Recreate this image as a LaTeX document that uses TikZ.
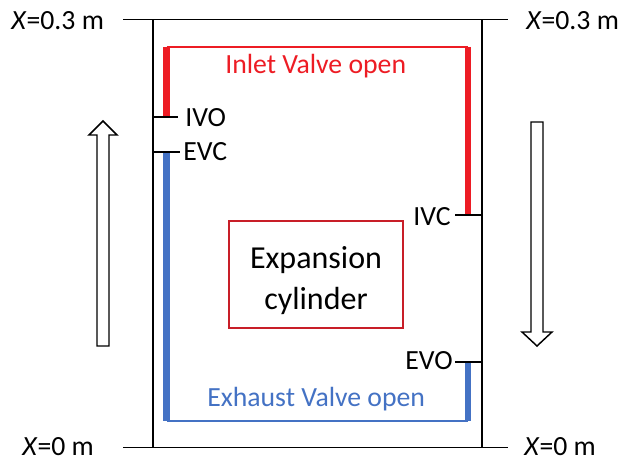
\documentclass[tikz,border=0pt]{standalone}
\usepackage{fontspec}
\setmainfont{Carlito}
\definecolor{inletred}{RGB}{237,28,36}
\definecolor{boxred}{RGB}{200,30,40}
\definecolor{exblue}{RGB}{68,114,196}
\begin{document}
\begin{tikzpicture}[x=0.75pt,y=-0.75pt,
  lbl/.style={inner sep=0pt,font=\fontsize{20.8}{25}\selectfont},
  biglbl/.style={inner sep=0pt,font=\fontsize{24}{29}\selectfont},
  wall/.style={line width=1.9pt},
  limit/.style={line width=0.75pt},
  tick/.style={line width=1.5pt},
  thickbar/.style={line width=5.2pt},
  thinbar/.style={line width=1.1pt},
  hollow/.style={draw=black,fill=white,line width=1.1pt,line join=miter}]
\useasboundingbox (0,0) rectangle (621,460);
% limits
\coordinate (tl) at (123,20); \coordinate (tr) at (508,20);
\coordinate (bl) at (123,447); \coordinate (br) at (508,447);
\draw[limit] (tl) -- (tr);
\draw[limit] (bl) -- (br);
\node[lbl,anchor=base west] (x03l) at (11,30) {\textit{X}=0.3 m};
\node[lbl,anchor=base west] (x03r) at (526,30) {\textit{X}=0.3 m};
\node[lbl,anchor=base west] (x0l) at (22,455) {\textit{X}=0 m};
\node[lbl,anchor=base west] (x0r) at (524,455) {\textit{X}=0 m};
% walls
\coordinate (LT) at (153,20); \coordinate (LB) at (153,447);
\coordinate (RT) at (482,20); \coordinate (RB) at (482,447);
\draw[wall] (LT) -- (LB);
\draw[wall] (RT) -- (RB);
% inlet valve
\coordinate (i1) at (166.5,47); \coordinate (i2) at (468,47);
\coordinate (ivo) at (166.5,117); \coordinate (ivc) at (468,215);
\draw[inletred,thinbar] (i1) -- (i2);
\draw[inletred,thickbar] (i1) -- (ivo);
\draw[inletred,thickbar] (i2) -- (ivc);
\node[lbl,anchor=base west,text=inletred] (inlet) at (225,74) {Inlet Valve open};
% exhaust valve
\coordinate (evc) at (166.5,152); \coordinate (e1) at (166.5,421);
\coordinate (e2) at (468,421); \coordinate (evo) at (468,362);
\draw[exblue,thickbar] (evc) -- (e1);
\draw[exblue,thinbar] (e1) -- (e2);
\draw[exblue,thickbar] (evo) -- (e2);
\node[lbl,anchor=base west,text=exblue] (exhaust) at (207,406) {Exhaust Valve open};
% ticks and labels
\coordinate (tIVO) at (153,117); \coordinate (tIVOe) at (178,117);
\coordinate (tEVC) at (153,152); \coordinate (tEVCe) at (180,152);
\coordinate (tIVC) at (482,215); \coordinate (tIVCe) at (455,215);
\coordinate (tEVO) at (482,362); \coordinate (tEVOe) at (455,362);
\draw[tick] (tIVO) -- (tIVOe);
\draw[tick] (tEVC) -- (tEVCe);
\draw[tick] (tIVC) -- (tIVCe);
\draw[tick] (tEVO) -- (tEVOe);
\node[lbl,anchor=base west] (lIVO) at (185,127) {IVO};
\node[lbl,anchor=base west] (lEVC) at (183,160) {EVC};
\node[lbl,anchor=base east] (lIVC) at (451,225) {IVC};
\node[lbl,anchor=base east] (lEVO) at (453,369) {EVO};
% box
\node[draw=boxred,line width=1.5pt,minimum width=130.5pt,minimum height=80.25pt,inner sep=0pt] (box) at (316,274.5) {};
\node[biglbl,anchor=base] (exp) at (316,268) {Expansion};
\node[biglbl,anchor=base] (cyl) at (316,309) {cylinder};
% motion arrows
\draw[hollow] (97,346) -- (97,135) -- (89,135) -- (103,121) -- (117,135) -- (109,135) -- (109,346) -- cycle;
\draw[hollow] (531,122) -- (531,332) -- (522,332) -- (537,346) -- (552,332) -- (543,332) -- (543,122) -- cycle;
\end{tikzpicture}
\end{document}
